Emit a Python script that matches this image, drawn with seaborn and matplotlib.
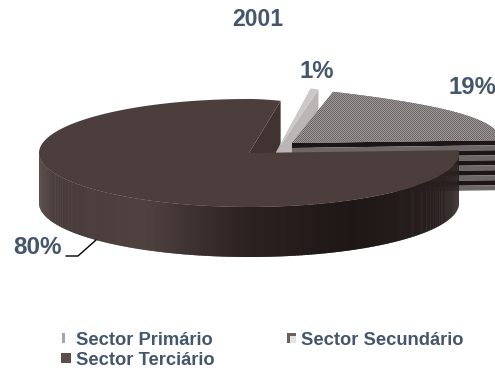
import numpy as np
import matplotlib
matplotlib.use("Agg")
import matplotlib.pyplot as plt
from matplotlib.patches import Polygon, Rectangle
from matplotlib.legend_handler import HandlerBase
import seaborn as sns

# Sector shares for 2001
sectors = ["Sector Primário", "Sector Secundário", "Sector Terciário"]
shares = [1, 19, 80]
share_labels = ["1%", "19%", "80%"]
title = "2001"

INK = "#44566c"
TOP = "#4b3e3d"
WALL = "#413331"
LIGHT_TOP = "#cbc8c7"
LIGHT_WALL = "#b9b6b5"

sns.set_theme(style="white")
plt.rcParams["font.family"] = ["Liberation Sans", "DejaVu Sans"]

# Projection of the tilted disc onto the canvas
RX, RY, DEPTH, BACK = 210.0, 54.0, 50.0, 0.48


def project(theta, radius, centre, z=0.0):
    t = np.radians(theta)
    u, v = radius * np.cos(t), radius * np.sin(t)
    # The far right quarter recedes; the far left keeps a plain elliptical outline
    narrowing = np.where(u > 0, 1 - BACK * np.clip(v, 0, 1) ** 4, 1.0)
    return centre[0] + RX * u * narrowing, centre[1] - RY * v + z


def rim(a, b, radius, centre, z=0.0, n=160):
    th = np.linspace(a, b, n)
    return np.column_stack(project(th, radius, centre, z))


def wedge(a, b, radius, centre):
    return np.vstack([[centre], rim(a, b, radius, centre)])


fig = plt.figure(figsize=(4.95, 3.68), dpi=100)
ax = fig.add_axes([0, 0, 1, 1])

# Clockwise slice angles taken from the shares
START = 75.0
edges = START - np.cumsum([0] + shares) * 3.6
centres = {"prim": (276.0, 152.0), "sec": (292.0, 143.0), "ter": (249.0, 153.0)}

# Inner wall of the large slice, seen through the gap
ter_a, ter_b = edges[3], edges[2]
p = project(np.array([ter_a]), 1.0, centres["ter"])
ax.add_patch(Polygon([centres["ter"], (p[0][0], p[1][0]), (p[0][0], p[1][0] + DEPTH),
                      (centres["ter"][0], centres["ter"][1] + DEPTH)], fc=WALL, ec="none"))

# Small slice: wall and top
c = centres["prim"]
outer = rim(edges[1], edges[0], 1.22, c)
lower = project(np.array([edges[1]]), 1.22, c, DEPTH)
ax.add_patch(Polygon([c, outer[0], (lower[0][0], lower[1][0]), (c[0], c[1] + DEPTH)],
                     fc=LIGHT_WALL, ec="none"))
ax.add_patch(Polygon(wedge(edges[1], edges[0], 1.22, c), fc=LIGHT_TOP, ec="none"))

# Middle slice: banded cut face, then the stippled top
c = centres["sec"]
band = DEPTH / 10
band_colours = ["#1d1615", "#6d6867"] * 5
for i, col in enumerate(band_colours):
    rx, ry = project(np.array([edges[2]]), 1.0, c, i * band)
    ax.add_patch(Polygon([(c[0], c[1] + i * band), (rx[0], ry[0]), (rx[0], ry[0] + band),
                          (c[0], c[1] + (i + 1) * band)], fc=col, ec="none"))
top_sec = Polygon(wedge(edges[2], edges[1], 1.0, c), fc="#857d7c", ec="none")
ax.add_patch(top_sec)
yy, xx = np.indices((120, 260))
check = ((xx + yy) % 2)[..., None]
stipple = check * np.array([0.62, 0.60, 0.60]) + (1 - check) * np.array([0.43, 0.40, 0.40])
img = ax.imshow(stipple, extent=(280, 540, 180, 60), aspect="auto", interpolation="nearest", zorder=2)
img.set_clip_path(top_sec)

# Large slice: graded side wall and flat top
c = centres["ter"]
shade = sns.blend_palette(["#463938", "#4f4241", "#2b2120", "#1e1716", "#2c2322"], 256)
side = np.linspace(ter_a, ter_b, 700)
side = side[np.sin(np.radians(side)) <= 0.03]
for a, b in zip(side[:-1], side[1:]):
    x0, y0 = project(a, 1.0, c)
    x1, y1 = project(b + 0.3, 1.0, c)
    frac = np.clip((x0 - 38) / 420, 0, 1)
    ax.add_patch(Polygon([(x0, y0), (x1, y1), (x1, y1 + DEPTH), (x0, y0 + DEPTH)],
                         fc=shade[int(frac * 255)], ec="none", zorder=3))
ax.add_patch(Polygon(wedge(ter_b, ter_a, 1.0, c), fc=TOP, ec="none", zorder=4))

# Title, value labels and the leader line of the largest slice
label_font = dict(color=INK, fontweight="bold", ha="center", va="center", zorder=6)
ax.text(257.5, 20, title, fontsize=16.6, **label_font)
ax.text(317, 71, share_labels[0], fontsize=17.2, **label_font)
ax.text(472, 87, share_labels[1], fontsize=17.2, **label_font)
ax.text(38, 248, share_labels[2], fontsize=17.4, **label_font)
ax.plot([66, 78, 96], [256, 256, 240], color="black", lw=1.0, zorder=6)


class Swatch(HandlerBase):
    """Legend key with a per-entry shape."""

    def __init__(self, kind):
        super().__init__()
        self.kind = kind

    def create_artists(self, legend, orig, xd, yd, w, h, fontsize, trans):
        s = 6.9
        x0 = w - s
        if self.kind == "prim":
            parts = [Rectangle((x0 + 0.6, 1.5), 2.2, s, fc="#a9a5a4", ec="none")]
        elif self.kind == "sec":
            parts = [Rectangle((x0, 1.5), s, s, fc="#6b5f5e", ec="none"),
                     Rectangle((x0 + 2.2, 1.5), s - 2.2, s - 2.2, fc="#e4e1e0", ec="none")]
        else:
            parts = [Rectangle((x0, 1.5), s, s, fc="#5b4e4d", ec="none")]
        for part in parts:
            part.set_transform(trans)
        return parts


keys = [Rectangle((0, 0), 1, 1) for _ in sectors]
order = [0, 2, 1]
kinds = ["prim", "sec", "ter"]
leg = ax.legend([keys[i] for i in order], [sectors[i] for i in order],
                handler_map={keys[i]: Swatch(kinds[i]) for i in range(3)},
                ncol=2, loc="upper left", bbox_to_anchor=(57 / 495, 1 - 328 / 368),
                frameon=False, fontsize=13.2, handlelength=0.55, handletextpad=0.28,
                labelspacing=0.16, columnspacing=3.9, borderpad=0.2, borderaxespad=0)
for t in leg.get_texts():
    t.set_color(INK)
    t.set_fontweight("bold")

ax.set_xlim(0, 495)
ax.set_ylim(368, 0)
ax.axis("off")
fig.savefig("out.png", dpi=100)
